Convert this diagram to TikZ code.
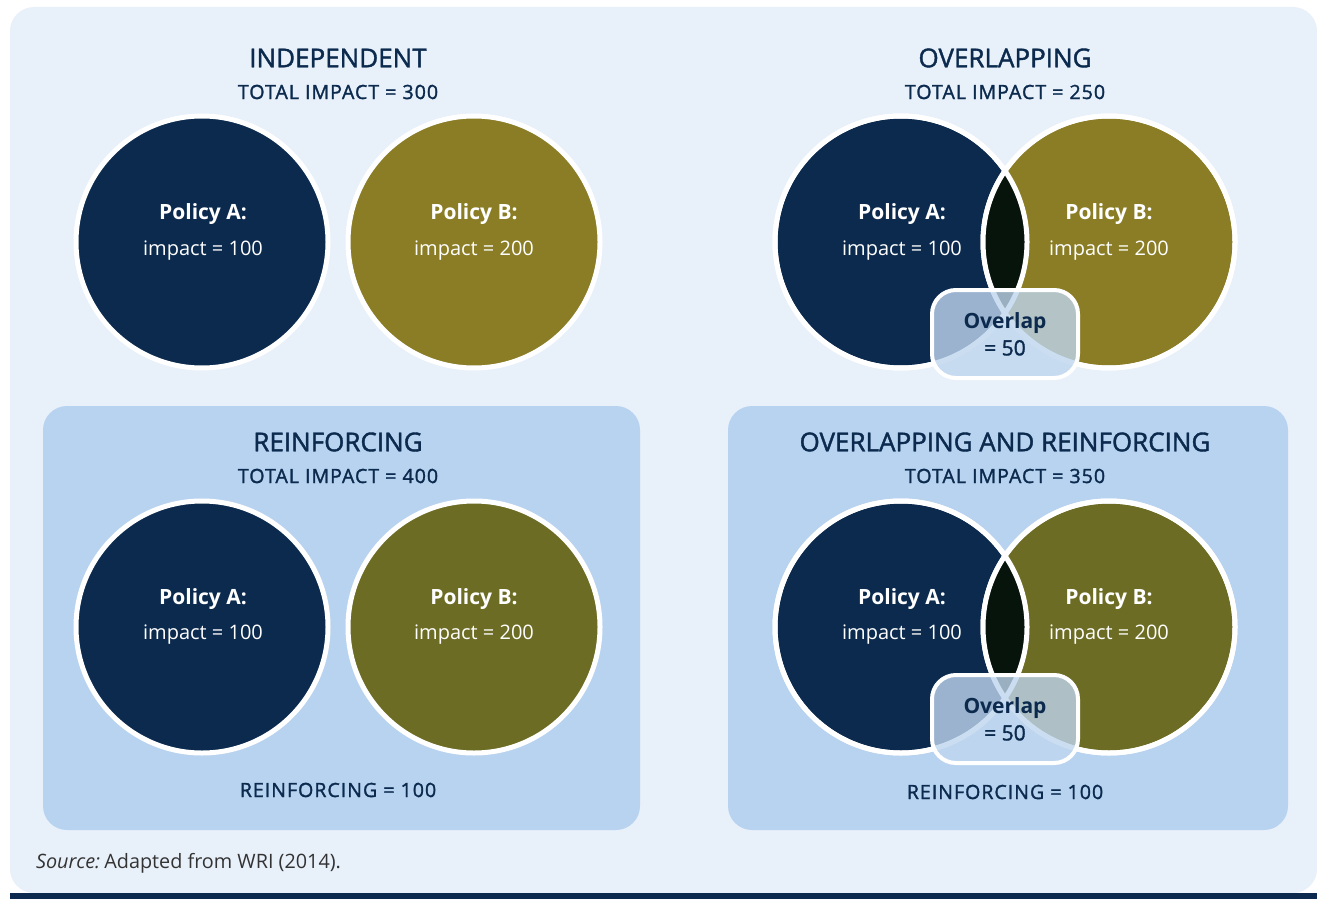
\documentclass[tikz,border=0pt]{standalone}
\usepackage{fontspec}
\setmainfont{Open Sans}
\newfontfamily\semifont[FakeBold=1.5]{Open Sans}
\newfontfamily\spacedfont[FakeBold=1.5,LetterSpace=5]{Open Sans}
\usetikzlibrary{positioning}
\definecolor{navy}{HTML}{0B2A4E}
\definecolor{oliveup}{HTML}{8A7D26}
\definecolor{olivedown}{HTML}{6C6C24}
\definecolor{lensdark}{HTML}{07140C}
\definecolor{bgblue}{HTML}{E8F0FA}
\definecolor{panelblue}{HTML}{B8D3F0}
\definecolor{overlapfill}{HTML}{BFD6EE}
\begin{document}
\begin{tikzpicture}[x=0.5pt,y=-0.5pt,
  policy/.style={circle,draw=white,line width=2.5pt,minimum size=126pt,inner sep=0pt},
  ptitle/.style={text=white,font=\bfseries\fontsize{10.5}{12}\selectfont},
  pimpact/.style={text=white,font=\fontsize{10}{12}\selectfont},
  heading/.style={text=navy,font=\semifont\fontsize{13}{16}\selectfont},
  total/.style={text=navy,font=\spacedfont\fontsize{9.8}{12}\selectfont},
  overlapbox/.style={rounded corners=12pt,draw=white,line width=2pt,fill=overlapfill,fill opacity=0.8,text opacity=1,
    minimum width=73pt,minimum height=44pt,align=center,text=navy,font=\semifont\fontsize{10.5}{13.5}\selectfont},
  panel/.style={fill=panelblue,rounded corners=12pt}]
  \useasboundingbox (0,0) rectangle (1317,899);
  \fill[bgblue,rounded corners=12pt] (10,7) rectangle (1317,893);
  \fill[navy] (10,893) rectangle (1317,899);
  \fill[panel] (43,406) rectangle (640,830);
  \fill[panel] (728,406) rectangle (1288,830);

  % independent
  \node[heading] (h1) at (338,58) {INDEPENDENT};
  \node[total] (t1) at (338,92) {TOTAL IMPACT = 300};
  \node[policy,fill=navy] (a1) at (202,242) {};
  \node[policy,fill=oliveup] (b1) at (474,242) {};
  \node[ptitle] at (203,214) {Policy A:};
  \node[pimpact] at (203,251) {impact = 100};
  \node[ptitle] at (474,214) {Policy B:};
  \node[pimpact] at (474,251) {impact = 200};

  % overlapping
  \node[heading] (h2) at (1005,58) {OVERLAPPING};
  \node[total] (t2) at (1005,92) {TOTAL IMPACT = 250};
  \node[policy,fill=navy] (a2) at (901,242) {};
  \node[policy,fill=oliveup] (b2) at (1109,242) {};
  \begin{scope}
    \clip (a2.center) circle[radius=63pt];
    \fill[lensdark] (b2.center) circle[radius=63pt];
  \end{scope}
  \draw[white,line width=2.5pt] (a2.center) circle[radius=63pt] (b2.center) circle[radius=63pt];
  \node[ptitle] at (902,214) {Policy A:};
  \node[pimpact] at (902,251) {impact = 100};
  \node[ptitle] at (1109,214) {Policy B:};
  \node[pimpact] at (1109,251) {impact = 200};
  \node[overlapbox] (o2) at (1005,334) {{\normalfont\bfseries Overlap}\\= 50};

  % reinforcing
  \node[heading] (h3) at (338,442) {REINFORCING};
  \node[total] (t3) at (338,476) {TOTAL IMPACT = 400};
  \node[policy,fill=navy] (a3) at (202,627) {};
  \node[policy,fill=olivedown] (b3) at (474,627) {};
  \node[ptitle] at (203,599) {Policy A:};
  \node[pimpact] at (203,635) {impact = 100};
  \node[ptitle] at (474,599) {Policy B:};
  \node[pimpact] at (474,635) {impact = 200};
  \node[total] (r3) at (338,790) {REINFORCING = 100};

  % overlapping and reinforcing
  \node[heading] (h4) at (1005,442) {OVERLAPPING AND REINFORCING};
  \node[total] (t4) at (1005,476) {TOTAL IMPACT = 350};
  \node[policy,fill=navy] (a4) at (901,627) {};
  \node[policy,fill=olivedown] (b4) at (1109,627) {};
  \begin{scope}
    \clip (a4.center) circle[radius=63pt];
    \fill[lensdark] (b4.center) circle[radius=63pt];
  \end{scope}
  \draw[white,line width=2.5pt] (a4.center) circle[radius=63pt] (b4.center) circle[radius=63pt];
  \node[ptitle] at (902,599) {Policy A:};
  \node[pimpact] at (902,635) {impact = 100};
  \node[ptitle] at (1109,599) {Policy B:};
  \node[pimpact] at (1109,635) {impact = 200};
  \node[overlapbox] (o4) at (1005,719) {{\normalfont\bfseries Overlap}\\= 50};
  \node[total] (r4) at (1005,792) {REINFORCING = 100};

  \node[anchor=west,text=black!80,font=\fontsize{9.9}{12}\selectfont] (src) at (29,863) {\textit{Source:}\kern-0.5pt\ Adapted from WRI (2014).};
\end{tikzpicture}
\end{document}
